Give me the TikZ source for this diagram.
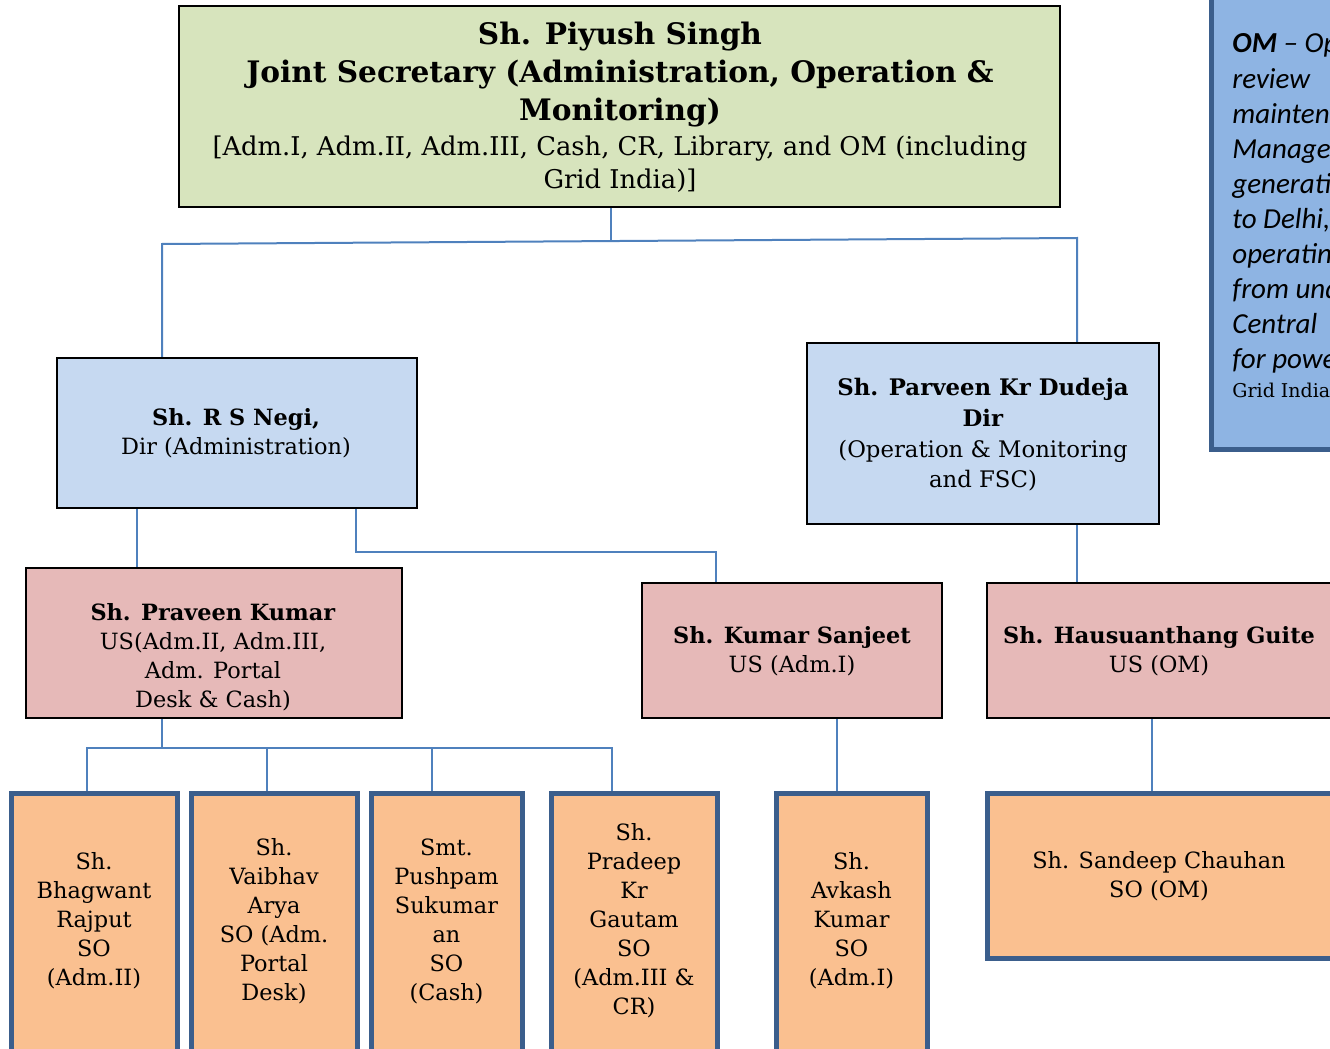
\documentclass[tikz,border=0pt]{standalone}
\usepackage{fontspec}
\setmainfont{DejaVu Serif}
\newfontfamily\calfont{Carlito}
\newcommand\bk{\rmfamily}
\usetikzlibrary{fit,backgrounds}
\definecolor{green1}{HTML}{D7E4BD}
\definecolor{blue1}{HTML}{C6D9F1}
\definecolor{pink1}{HTML}{E6B9B8}
\definecolor{orng}{HTML}{FAC090}
\definecolor{panelc}{HTML}{8EB4E3}
\definecolor{sobd}{HTML}{3B5E8C}
\definecolor{lnblue}{HTML}{4F81BD}
\begin{document}
\begin{tikzpicture}[x=0.5pt,y=-0.5pt,
  box/.style={draw=black, line width=1pt, inner sep=0pt, outer sep=0pt},
  sobox/.style={draw=sobd, line width=2.5pt, fill=orng, inner sep=0pt, outer sep=0pt},
  conn/.style={draw=lnblue, line width=1pt},
  txt/.style={align=center, inner sep=0pt, font=\bk\fontsize{11.2}{14.5}\selectfont},
  pnl/.style={anchor=base west, inner sep=0pt, font=\calfont\itshape\fontsize{14.5}{17}\selectfont},
]
\useasboundingbox (0,0) rectangle (1330,1049);
\clip (0,0) rectangle (1330,1049);
% boxes
\node[box, fill=green1, fit={(179,6) (1060,207)}] (js) {};
\node[box, fill=blue1, fit={(57,358) (417,508)}] (negi) {};
\node[box, fill=blue1, fit={(807,343) (1159,524)}] (dudeja) {};
\node[box, fill=pink1, fit={(26,568) (402,718)}] (praveen) {};
\node[box, fill=pink1, fit={(642,583) (942,718)}] (sanjeet) {};
\node[box, fill=pink1, fit={(987,583) (1345,718)}] (guite) {};
\node[sobox, fit={(11,793) (177,1058)}] (so1) {};
\node[sobox, fit={(191,793) (357,1058)}] (so2) {};
\node[sobox, fit={(371,793) (522,1058)}] (so3) {};
\node[sobox, fit={(551,793) (717,1058)}] (so4) {};
\node[sobox, fit={(776,793) (927,1058)}] (so5) {};
\node[sobox, fit={(987,793) (1345,958)}] (so6) {};
\node[sobox, fill=panelc, fit={(1211,-10) (1345,449)}] (om) {};
% junction coordinates
\coordinate (jl) at (162,244);
\coordinate (jr) at (1077,238);
\coordinate (jm) at (611,240.9);
\coordinate (c1) at (137,530);
\coordinate (c2) at (356,552);
\coordinate (c3) at (716,552);
\coordinate (c5) at (162,748);
\coordinate (r1) at (87,748);
\coordinate (r2) at (267,748);
\coordinate (r3) at (432,748);
\coordinate (r4) at (612,748);
\coordinate (c6) at (837,750);
\coordinate (c7) at (1152,750);
% connectors
\begin{scope}[on background layer]
\draw[conn] (js.south -| jm) -- (jm);
\draw[conn] (negi.north -| jl) -- (jl) -- (jr) -- (dudeja.north -| jr);
\draw[conn] (negi.south -| c1) -- (praveen.north -| c1);
\draw[conn] (negi.south -| c2) -- (c2) -- (c3) -- (sanjeet.north -| c3);
\draw[conn] (dudeja.south -| jr) -- (guite.north -| jr);
\draw[conn] (praveen.south -| c5) -- (c5);
\draw[conn] (so1.north -| r1) -- (r1) -- (r4) -- (so4.north -| r4);
\draw[conn] (so2.north -| r2) -- (r2);
\draw[conn] (so3.north -| r3) -- (r3);
\draw[conn] (sanjeet.south -| c6) -- (so5.north -| c6);
\draw[conn] (guite.south -| c7) -- (so6.north -| c7);
\end{scope}
% texts
\node[txt, font=\bk\bfseries\fontsize{14.8}{19}\selectfont] (jst1) at (620,75) {Sh. Piyush Singh\\Joint Secretary (Administration, Operation \&\\Monitoring)};
\node[txt, font=\bk\fontsize{12.9}{16.5}\selectfont] (jst2) at (620,164.5) {{[}Adm.I, Adm.II, Adm.III, Cash, CR, Library, and OM (including\\Grid India)]};
\node[txt] (negit) at (236,433.5) {\textbf{Sh. R S Negi,}\\Dir (Administration)};
\node[txt, font=\bk\fontsize{11.4}{15.3}\selectfont] (dudejat) at (983,435) {\textbf{Sh. Parveen Kr Dudeja}\\\textbf{Dir}\\(Operation \& Monitoring\\and FSC)};
\node[txt] (praveent) at (213,657.5) {\textbf{Sh. Praveen Kumar}\\US(Adm.II, Adm.III,\\Adm. Portal\\Desk \& Cash)};
\node[txt] (sanjeett) at (792,651.5) {\textbf{Sh. Kumar Sanjeet}\\US (Adm.I)};
\node[txt] (guitet) at (1159,651.5) {\textbf{Sh. Hausuanthang Guite}\\US (OM)};
\node[txt] (so1t) at (94,921) {Sh.\\Bhagwant\\Rajput\\SO\\(Adm.II)};
\node[txt] (so2t) at (274,921) {Sh.\\Vaibhav\\Arya\\SO (Adm.\\Portal\\Desk)};
\node[txt] (so3t) at (446.5,921) {Smt.\\Pushpam\\Sukumar\\an\\SO\\(Cash)};
\node[txt] (so4t) at (634,921) {Sh.\\Pradeep\\Kr\\Gautam\\SO\\(Adm.III \&\\CR)};
\node[txt] (so5t) at (851.5,921) {Sh.\\Avkash\\Kumar\\SO\\(Adm.I)};
\node[txt] (so6t) at (1159,876.5) {Sh. Sandeep Chauhan\\SO (OM)};
% panel text
\node[pnl] (p1) at (1232,53) {\textbf{OM} – Operation};
\node[pnl] (p2) at (1232,88) {review};
\node[pnl] (p3) at (1232,123) {maintenance};
\node[pnl] (p4) at (1232,158) {Management};
\node[pnl] (p5) at (1232,193) {generation};
\node[pnl] (p6) at (1232,228) {to Delhi,};
\node[pnl] (p7) at (1232,263) {operating};
\node[pnl] (p8) at (1232,298) {from under};
\node[pnl] (p9) at (1232,333) {Central};
\node[pnl] (p10) at (1232,368) {for power};
\node[pnl, font=\bk\fontsize{9.5}{12}\selectfont] (p11) at (1232,397) {Grid India};
\end{tikzpicture}
\end{document}
